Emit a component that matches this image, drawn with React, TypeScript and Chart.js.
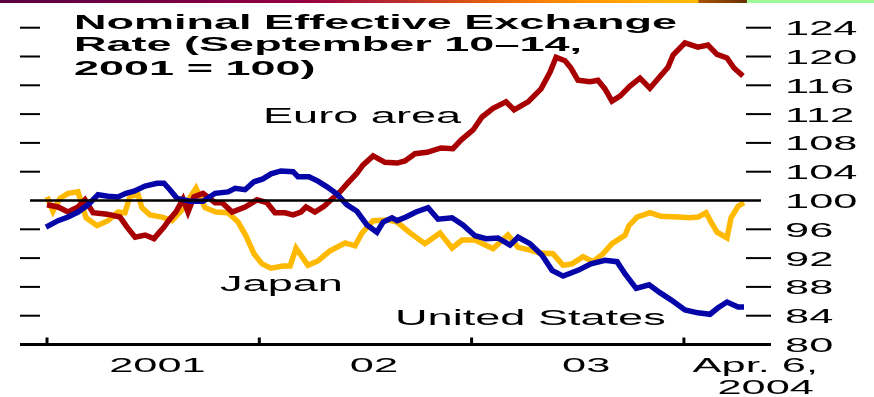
import React, { useEffect, useRef } from "react";
import { Chart, registerables } from "chart.js";

Chart.register(...registerables);

// ---- Data (decimal years, index Sept 10-14, 2001 = 100) ----
const euroDates = [
  2001.0, 2001.052, 2001.099, 2001.146, 2001.179, 2001.217, 2001.283, 2001.344, 2001.377, 2001.415,
  2001.462, 2001.504, 2001.527, 2001.551, 2001.575, 2001.607, 2001.641, 2001.664, 2001.692, 2001.735,
  2001.792, 2001.825, 2001.872, 2001.933, 2001.989, 2002.036, 2002.074, 2002.121, 2002.159, 2002.196,
  2002.22, 2002.262, 2002.305, 2002.342, 2002.38, 2002.413, 2002.46, 2002.488, 2002.536, 2002.592,
  2002.649, 2002.686, 2002.733, 2002.79, 2002.856, 2002.912, 2002.95, 2003.007, 2003.049, 2003.101,
  2003.162, 2003.2, 2003.266, 2003.327, 2003.369, 2003.398, 2003.44, 2003.468, 2003.501, 2003.558,
  2003.595, 2003.628, 2003.661, 2003.699, 2003.746, 2003.793, 2003.84, 2003.878, 2003.925, 2003.949,
  2004.005, 2004.066, 2004.113, 2004.156, 2004.203, 2004.236, 2004.278,
];
const euroValues = [
  99.4, 99.1, 98.4, 99.1, 100.1, 98.3, 98.1, 97.7, 96.3, 94.9,
  95.2, 94.7, 95.5, 96.3, 97.3, 98.4, 100.2, 98.4, 100.5, 101.0,
  99.7, 99.7, 98.4, 99.1, 100.1, 99.7, 98.3, 98.3, 98.0, 98.4,
  99.1, 98.4, 99.2, 100.2, 101.2, 102.3, 103.8, 104.9, 106.2, 105.3,
  105.2, 105.5, 106.5, 106.7, 107.3, 107.2, 108.4, 109.8, 111.6, 112.8,
  113.7, 112.6, 113.7, 115.5, 117.8, 119.9, 119.4, 118.4, 116.7, 116.5,
  116.7, 115.5, 113.8, 114.5, 115.9, 117.0, 115.6, 116.9, 118.5, 120.2,
  121.9, 121.3, 121.6, 120.3, 119.8, 118.4, 117.3,
];

const japanDates = [
  2001.0, 2001.028, 2001.061, 2001.099, 2001.146, 2001.184, 2001.236, 2001.287, 2001.334, 2001.367,
  2001.391, 2001.429, 2001.447, 2001.485, 2001.542, 2001.589, 2001.636, 2001.702, 2001.744, 2001.796,
  2001.853, 2001.9, 2001.937, 2001.975, 2002.013, 2002.055, 2002.112, 2002.145, 2002.173, 2002.229,
  2002.276, 2002.333, 2002.404, 2002.451, 2002.484, 2002.536, 2002.606, 2002.649, 2002.71, 2002.78,
  2002.851, 2002.908, 2002.955, 2003.016, 2003.101, 2003.171, 2003.219, 2003.275, 2003.322, 2003.383,
  2003.431, 2003.473, 2003.525, 2003.572, 2003.619, 2003.661, 2003.723, 2003.741, 2003.779, 2003.84,
  2003.892, 2003.972, 2004.029, 2004.066, 2004.104, 2004.128, 2004.156, 2004.203, 2004.222, 2004.255,
  2004.283,
];
const japanValues = [
  100.5, 98.5, 100.3, 101.0, 101.2, 97.6, 96.5, 97.2, 98.4, 98.3,
  100.6, 100.8, 99.0, 98.0, 97.7, 97.2, 98.7, 101.7, 99.0, 98.4,
  98.3, 97.0, 95.1, 92.6, 91.2, 90.6, 90.9, 90.9, 93.4, 91.0,
  91.6, 93.0, 94.1, 93.7, 95.5, 97.2, 97.3, 97.0, 95.5, 94.0,
  95.5, 93.4, 94.5, 94.5, 93.3, 95.2, 93.5, 93.1, 92.7, 92.6,
  91.0, 91.2, 92.2, 91.5, 92.6, 94.0, 95.2, 96.5, 97.7, 98.3,
  97.8, 97.7, 97.6, 97.7, 98.3, 97.0, 95.6, 94.8, 97.6, 99.2,
  99.7,
];

const usDates = [
  2000.995, 2001.052, 2001.099, 2001.146, 2001.193, 2001.24, 2001.287, 2001.334, 2001.372, 2001.41,
  2001.462, 2001.518, 2001.551, 2001.579, 2001.612, 2001.674, 2001.735, 2001.792, 2001.853, 2001.886,
  2001.933, 2001.975, 2002.017, 2002.055, 2002.102, 2002.159, 2002.182, 2002.234, 2002.276, 2002.319,
  2002.366, 2002.413, 2002.46, 2002.507, 2002.554, 2002.583, 2002.625, 2002.649, 2002.691, 2002.738,
  2002.795, 2002.842, 2002.908, 2002.959, 2003.016, 2003.068, 2003.124, 2003.181, 2003.219, 2003.275,
  2003.332, 2003.379, 2003.431, 2003.501, 2003.562, 2003.628, 2003.685, 2003.723, 2003.775, 2003.836,
  2003.887, 2003.939, 2004.005, 2004.066, 2004.123, 2004.161, 2004.203, 2004.255, 2004.283,
];
const usValues = [
  96.3, 97.2, 97.7, 98.4, 99.4, 100.8, 100.6, 100.5, 101.0, 101.3,
  102.0, 102.4, 102.4, 101.5, 100.3, 99.9, 99.9, 101.0, 101.2, 101.7,
  101.5, 102.6, 103.0, 103.7, 104.1, 104.0, 103.3, 103.3, 102.7, 101.9,
  100.9, 99.4, 98.5, 96.6, 95.6, 97.0, 97.6, 97.2, 97.7, 98.4,
  99.0, 97.4, 97.6, 96.6, 95.1, 94.7, 94.8, 93.8, 94.9, 94.0,
  92.4, 90.3, 89.5, 90.3, 91.2, 91.7, 91.5, 89.8, 87.8, 88.3,
  87.2, 86.2, 84.8, 84.4, 84.2, 85.1, 85.9, 85.2, 85.2,
];

const seriesNames = ["Euro area", "Japan", "United States"];
const titleLines = ["Nominal Effective Exchange", "Rate (September 10\u201314,", "2001 = 100)"];
const yTicks = [80, 84, 88, 92, 96, 100, 104, 108, 112, 116, 120, 124];
const xTickYears = [2001, 2002, 2003, 2004];
const xLabels = ["2001", "02", "03"];
const xLabelAt = [2001.52, 2002.54, 2003.54];
const endLabel = ["Apr. 6,", "2004"];
const baseValue = 100;
const baseLineRange = [2000.92, 2004.363];

const RED = "#a80000";
const BLUE = "#0606a8";
const YELLOW = "#ffb900";
const FONT = "'Liberation Sans', Arial, sans-serif";

function toPoints(xs: number[], ys: number[]) {
  return xs.map((x, i) => ({ x, y: ys[i] }));
}

function stretchText(ctx: CanvasRenderingContext2D, text: string, x: number, y: number, sx: number, align: CanvasTextAlign) {
  ctx.save();
  ctx.translate(x, y);
  ctx.scale(sx, 1);
  ctx.textAlign = align;
  ctx.textBaseline = "alphabetic";
  ctx.fillText(text, 0, 0);
  ctx.restore();
}

const decoPlugin = {
  id: "deco",
  afterDatasetsDraw(chart: any) {
    const { ctx, chartArea: a, scales } = chart;
    const xs = scales.x;
    const ys = scales.y;
    ctx.save();
    ctx.fillStyle = "#000";
    const yb = ys.getPixelForValue(80);
    ctx.fillRect(a.left, yb - 1.5, a.right - a.left, 3);
    for (const v of yTicks) {
      if (v === 80 || v === baseValue) continue;
      const y = ys.getPixelForValue(v);
      ctx.fillRect(a.left, y - 1, 20, 2);
      ctx.fillRect(a.right - 25, y - 1, 25, 2);
    }
    for (const t of xTickYears) {
      const x = xs.getPixelForValue(t);
      ctx.fillRect(x - 1.5, yb - 7, 3, 6);
    }
    // Y tick labels (right)
    ctx.font = `20px ${FONT}`;
    const sxTick = 2.17;
    for (const v of yTicks) {
      const y = ys.getPixelForValue(v);
      stretchText(ctx, String(v), a.right + 14, y + 7.5, sxTick, "left");
    }
    // X labels
    xLabels.forEach((lab, i) => {
      stretchText(ctx, lab, xs.getPixelForValue(xLabelAt[i]), 372, sxTick, "center");
    });
    stretchText(ctx, endLabel[0], 818, 372, sxTick, "right");
    stretchText(ctx, endLabel[1], 814, 394, sxTick, "right");
    // Title
    ctx.font = `bold 21px ${FONT}`;
    const w1 = ctx.measureText(titleLines[0]).width;
    const sxTitle = 603 / w1;
    stretchText(ctx, titleLines[0], 74, 28.5, sxTitle, "left");
    stretchText(ctx, titleLines[1], 74, 50.5, sxTitle, "left");
    stretchText(ctx, titleLines[2], 74, 75, sxTitle, "left");
    // Series labels
    ctx.font = `22px ${FONT}`;
    const sxLab = 2.05;
    stretchText(ctx, seriesNames[0], 263, 123, sxLab, "left");
    stretchText(ctx, seriesNames[1], 220, 291, sxLab, "left");
    stretchText(ctx, seriesNames[2], 395, 325, sxLab, "left");
    ctx.restore();
  },
};

export default function App() {
  const ref = useRef<HTMLCanvasElement | null>(null);
  useEffect(() => {
    if (!ref.current) return;
    const common = {
      pointRadius: 0,
      borderWidth: 5.5,
      tension: 0,
      fill: false,
      borderJoinStyle: "miter" as const,
      borderCapStyle: "butt" as const,
    };
    const chart = new Chart(ref.current, {
      type: "line",
      data: {
        datasets: [
          {
            label: "base",
            data: [
              { x: baseLineRange[0], y: baseValue },
              { x: baseLineRange[1], y: baseValue },
            ],
            borderColor: "#000",
            borderWidth: 2.5,
            pointRadius: 0,
            order: 0,
          },
          { label: seriesNames[2], data: toPoints(usDates, usValues), borderColor: BLUE, order: 1, ...common },
          { label: seriesNames[0], data: toPoints(euroDates, euroValues), borderColor: RED, order: 2, ...common },
          { label: seriesNames[1], data: toPoints(japanDates, japanValues), borderColor: YELLOW, order: 3, ...common },
        ],
      },
      options: {
        animation: false,
        responsive: false,
        devicePixelRatio: 1,
        parsing: false as any,
        layout: { padding: { left: 20, right: 103, top: 13.3, bottom: 52.5 } },
        plugins: { legend: { display: false }, tooltip: { enabled: false } },
        scales: {
          x: { type: "linear", min: 2000.8728, max: 2004.4102, display: false },
          y: { type: "linear", min: 80, max: 126, display: false },
        },
      },
      plugins: [decoPlugin],
    });
    return () => chart.destroy();
  }, []);

  return (
    <div style={{ position: "fixed", left: 0, top: 0, width: 874, height: 397, background: "#fff", overflow: "hidden" }}>
      <canvas ref={ref} width={874} height={397} style={{ display: "block", width: 874, height: 397 }} />
      <div
        style={{
          position: "absolute",
          left: 0,
          top: 0,
          width: 874,
          height: 3,
          background:
            "linear-gradient(to right, #5a0042 0%, #7a0045 20%, #950040 35%, #b82a30 45%, #e05a10 55%, #ff8400 63%, #ffb000 75%, #ffba00 79.8%, #a85400 80%, #6a3000 85.4%, #a0fa98 85.5%, #a0fa98 100%)",
        }}
      />
    </div>
  );
}
